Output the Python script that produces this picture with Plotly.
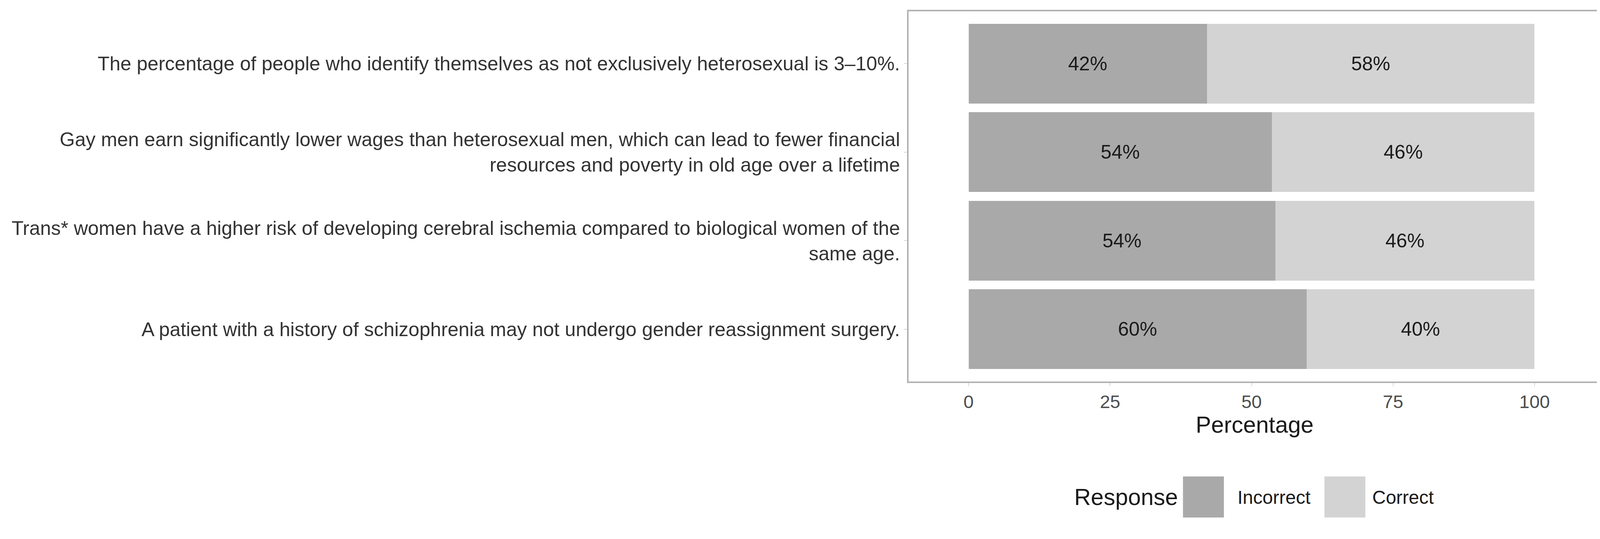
import plotly.graph_objects as go

categories = [
    "The percentage of people who identify themselves as not exclusively heterosexual is 3–10%.",
    "Gay men earn significantly lower wages than heterosexual men, which can lead to fewer financial<br>resources and poverty in old age over a lifetime",
    "Trans* women have a higher risk of developing cerebral ischemia compared to biological women of the<br>same age.",
    "A patient with a history of schizophrenia may not undergo gender reassignment surgery.",
]
incorrect = [42.1, 53.6, 54.2, 59.7]
correct = [57.9, 46.4, 45.8, 40.3]
incorrect_labels = ["42%", "54%", "54%", "60%"]
correct_labels = ["58%", "46%", "46%", "40%"]
series_names = ["Incorrect", "Correct"]
colors = ["#a9a9a9", "#d3d3d3"]

W, H = 4100, 1325
L, R, T, B = 2318, 6, 21, 357
PW, PH = W - L - R, H - T - B

fig = go.Figure()
for name, vals, labs, col in [(series_names[0], incorrect, incorrect_labels, colors[0]),
                              (series_names[1], correct, correct_labels, colors[1])]:
    fig.add_trace(go.Bar(
        y=categories, x=vals, orientation="h", name=name,
        marker=dict(color=col, line=dict(width=0)),
        text=labs, textposition="inside", insidetextanchor="middle",
        textfont=dict(size=50, color="#1a1a1a", family="Liberation Sans"),
        width=0.9, showlegend=False,
    ))

fig.update_layout(
    barmode="stack",
    width=W, height=H,
    margin=dict(l=L, r=R, t=T, b=B),
    paper_bgcolor="white", plot_bgcolor="white",
    font=dict(family="Liberation Sans", color="#333333"),
    uniformtext=dict(minsize=10, mode="show"),
    xaxis=dict(range=[-10.6, 111.7], tickvals=[0, 25, 50, 75, 100],
               ticks="outside", ticklen=8, tickcolor="#b3b3b3",
               tickfont=dict(size=47, color="#4d4d4d"),
               showgrid=False, zeroline=False,
               showline=True, mirror=True, linecolor="#b3b3b3", linewidth=4,
               title=dict(text="Percentage", font=dict(size=59, color="#1a1a1a"), standoff=12)),
    yaxis=dict(range=[3.59, -0.59], ticks="outside", ticklen=8, tickcolor="#b3b3b3",
               tickfont=dict(size=50, color="#333333"),
               showgrid=False, zeroline=False,
               showline=True, mirror=True, linecolor="#b3b3b3", linewidth=4),
)

def px(x):
    return (x - L) / PW

def py(y):
    return (H - B - y) / PH

fig.add_annotation(xref="paper", yref="paper", x=px(3012), y=py(1264),
                   text="Response", showarrow=False, xanchor="right", yanchor="middle",
                   font=dict(size=59, color="#1a1a1a"))
legend_items = [(3022, 3160, series_names[0], colors[0]), (3385, 3506, series_names[1], colors[1])]
for x0, tx, name, col in legend_items:
    fig.add_shape(type="rect", xref="paper", yref="paper",
                  x0=px(x0), x1=px(x0 + 105), y0=py(1211), y1=py(1316),
                  fillcolor=col, line=dict(width=0))
    fig.add_annotation(xref="paper", yref="paper", x=px(tx), y=py(1264),
                       text=name, showarrow=False, xanchor="left", yanchor="middle",
                       font=dict(size=48, color="#1a1a1a"))

fig.write_html("out.html")
